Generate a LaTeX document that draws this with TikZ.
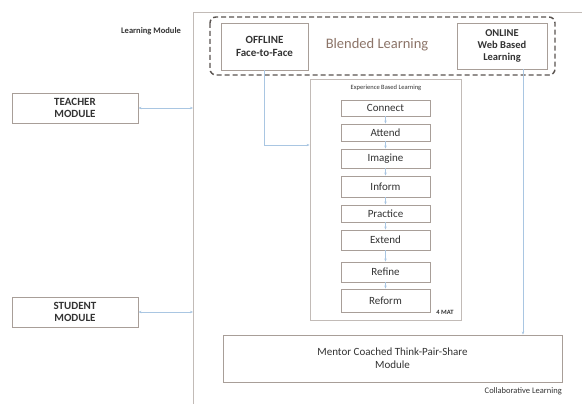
\documentclass[tikz,border=0pt]{standalone}
\usepackage{fontspec}
\setmainfont{Carlito}
\usetikzlibrary{arrows.meta}
\definecolor{boxline}{HTML}{A89E98}
\definecolor{linkline}{HTML}{A9C6E2}
\definecolor{txt}{HTML}{333333}
\definecolor{blend}{HTML}{8C7468}
\definecolor{dashline}{HTML}{5A5450}
\tikzset{
  x=1pt, y=-1pt,
  box/.style={draw=boxline, line width=0.9pt, fill=white, text=txt, align=center, inner sep=0pt},
  stepbox/.style={box, minimum width=89pt, font=\fontsize{11}{12}\selectfont},
  modbox/.style={box, minimum width=126pt, minimum height=30pt, font=\bfseries\fontsize{11}{12.5}\selectfont},
  link/.style={draw=linkline, line width=0.8pt, -{Stealth[length=3pt,width=2.4pt]}},
  biglink/.style={link, {Stealth[length=3pt,width=2.4pt]}-{Stealth[length=3pt,width=2.4pt]}},
  lbl/.style={text=txt, inner sep=0pt},
}
\begin{document}
\begin{tikzpicture}
\useasboundingbox (0,0) rectangle (582,404);
\fill[white] (0,0) rectangle (582,404);

% Learning module frame
\draw[boxline!70, line width=0.8pt] (193,404) -- (193,12) -- (582,12);
\node[lbl, font=\bfseries\fontsize{8.5}{9}\selectfont] (lm) at (151,31) {Learning Module};

% Blended learning group
\draw[dashline, line width=1.4pt, dash pattern=on 5pt off 3pt, rounded corners=6pt]
  (210,17) rectangle (555,75);
\node[box, minimum width=87pt, minimum height=47pt, font=\bfseries\fontsize{11}{12.5}\selectfont]
  (off) at (264.5,46.5) {OFFLINE\\Face-to-Face};
\node[box, minimum width=90pt, minimum height=46pt, font=\bfseries\fontsize{10.5}{12}\selectfont]
  (on) at (502,46) {ONLINE\\Web Based\\Learning};
\node[text=blend, inner sep=0pt, font=\fontsize{14.5}{15}\selectfont] (bl) at (377,45) {Blended Learning};

% Experience based learning (4MAT)
\node[draw=boxline!70, line width=0.8pt, minimum width=151pt, minimum height=241pt, inner sep=0pt]
  (ebl) at (385.5,199.5) {};
\node[lbl, font=\fontsize{6.5}{7}\selectfont] (eblt) at (386,88) {Experience Based Learning};
\node[lbl, font=\bfseries\fontsize{6.5}{7}\selectfont] (mat) at (445,312) {4 MAT};

\node[stepbox, minimum height=16pt] (s1) at (385.5,108) {Connect};
\node[stepbox, minimum height=17pt] (s2) at (385.5,132.5) {Attend};
\node[stepbox, minimum height=19pt] (s3) at (385.5,158.5) {Imagine};
\node[stepbox, minimum height=21pt] (s4) at (385.5,186.5) {Inform};
\node[stepbox, minimum height=17pt] (s5) at (385.5,213.5) {Practice};
\node[stepbox, minimum height=20pt] (s6) at (385.5,240) {Extend};
\node[stepbox, minimum height=20pt] (s7) at (385.5,272) {Refine};
\node[stepbox, minimum height=23pt] (s8) at (385.5,300.5) {Reform};
\foreach \a/\b in {s1/s2,s2/s3,s3/s4,s4/s5,s5/s6,s6/s7,s7/s8}
  \draw[link] (\a) -- (\b);

% Collaborative learning
\node[box, minimum width=339pt, minimum height=47pt, font=\fontsize{11}{13}\selectfont]
  (mentor) at (392.5,358.5) {Mentor Coached Think-Pair-Share\\Module};
\node[lbl, anchor=east, font=\fontsize{8.5}{9}\selectfont] (cl) at (562,391) {Collaborative Learning};

% Teacher and student modules
\node[modbox] (teacher) at (75,108) {TEACHER\\MODULE};
\node[modbox] (student) at (75,312) {STUDENT\\MODULE};
\coordinate (tin) at (193,108);
\coordinate (sin) at (193,312);
\draw[biglink] (teacher) -- (tin);
\draw[biglink] (student) -- (sin);

% Mode links
\draw[link] (off.south) |- (ebl.west |- 0,145);
\coordinate (onx) at (523,0);
\draw[link] (on.south -| onx) -- (mentor.north -| onx);
\end{tikzpicture}
\end{document}
